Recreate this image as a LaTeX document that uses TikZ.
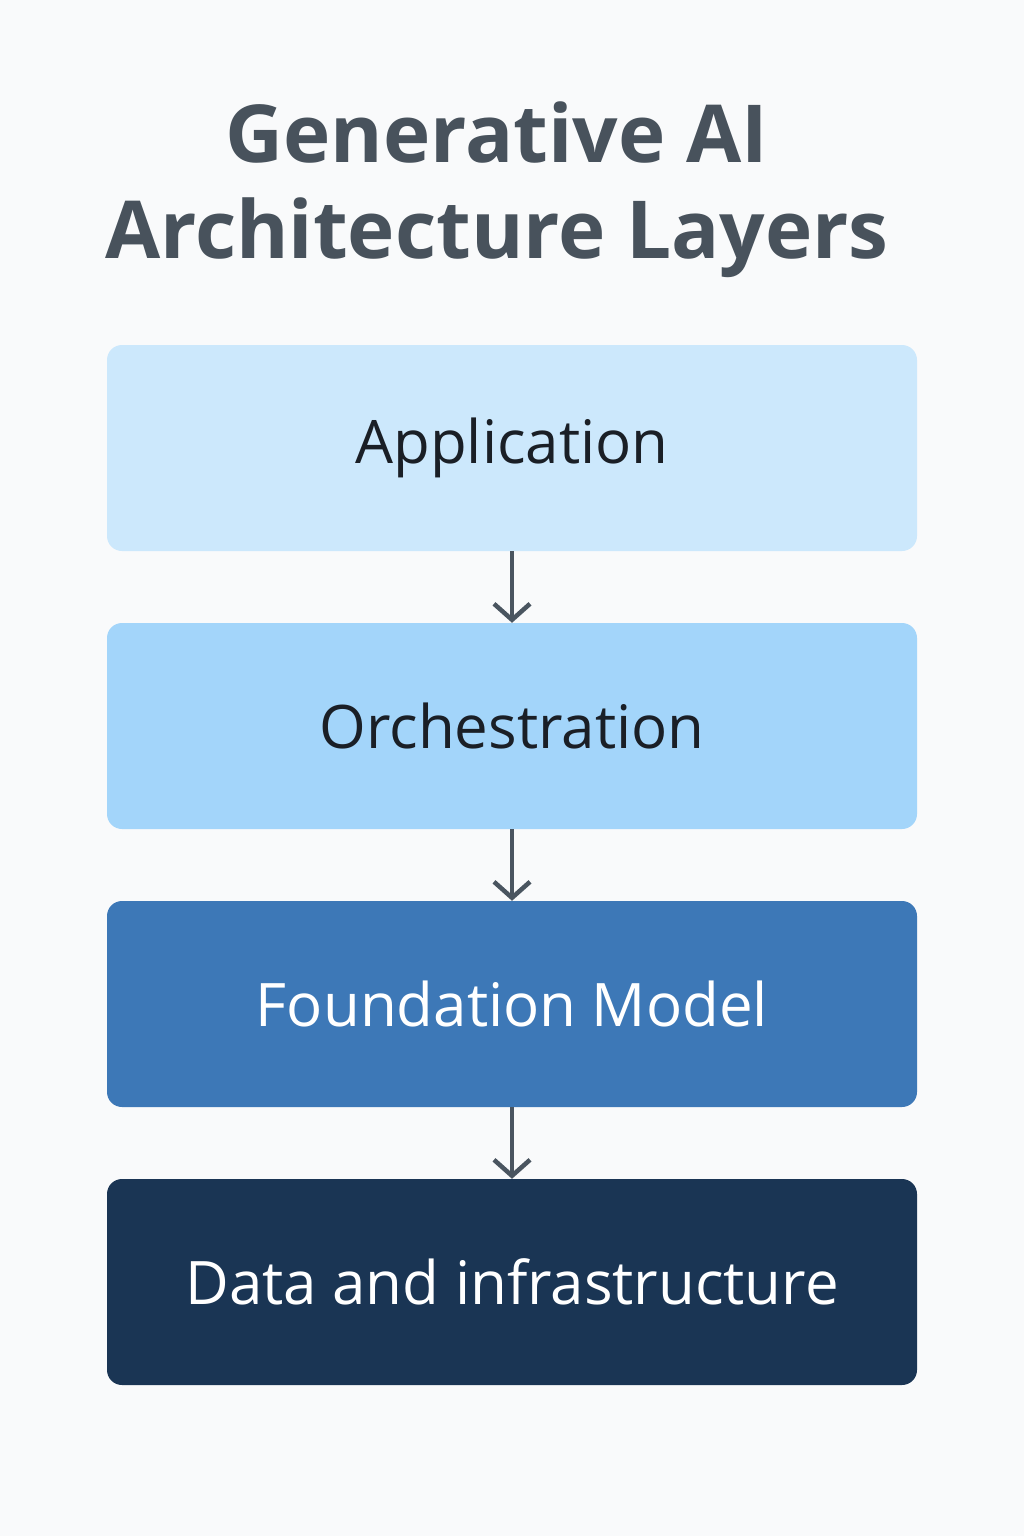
\documentclass[tikz,border=0pt]{standalone}
\usepackage{fontspec}
\setmainfont{Open Sans}
\definecolor{bg}{HTML}{F9FAFB}
\definecolor{c1}{HTML}{CCE8FC}
\definecolor{c2}{HTML}{A3D5FA}
\definecolor{c3}{HTML}{3D78B7}
\definecolor{c4}{HTML}{1A3554}
\definecolor{arr}{HTML}{4A5560}
\definecolor{ttl}{HTML}{48525C}
\definecolor{dk}{HTML}{1A1F26}
\begin{document}
\begin{tikzpicture}[x=1pt,y=-1pt,
  layer/.style={rounded corners=15pt,minimum width=810pt,minimum height=206pt,inner sep=0pt,font=\fontsize{60}{60}\selectfont},
  conn/.style={draw=arr,line width=4.5pt,-{Straight Barb[length=16pt,width=36pt,line width=4.5pt]}}]
\usetikzlibrary{arrows.meta}
\fill[bg] (0,0) rectangle (1024,1536);
\useasboundingbox (0,0) rectangle (1024,1536);
\node[text=ttl,font=\fontsize{80}{96}\selectfont\bfseries,align=center] (title) at (497,190) {Generative AI\\Architecture Layers};
\node[layer,fill=c1,text=dk] (app) at (512,448) {Application};
\node[layer,fill=c2,text=dk] (orch) at (512,726) {Orchestration};
\node[layer,fill=c3,text=white] (fm) at (512,1004) {Foundation Model};
\node[layer,fill=c4,text=white] (data) at (512,1282) {Data and infrastructure};
\draw[conn] (app.south) -- (orch.north);
\draw[conn] (orch.south) -- (fm.north);
\draw[conn] (fm.south) -- (data.north);
\end{tikzpicture}
\end{document}
